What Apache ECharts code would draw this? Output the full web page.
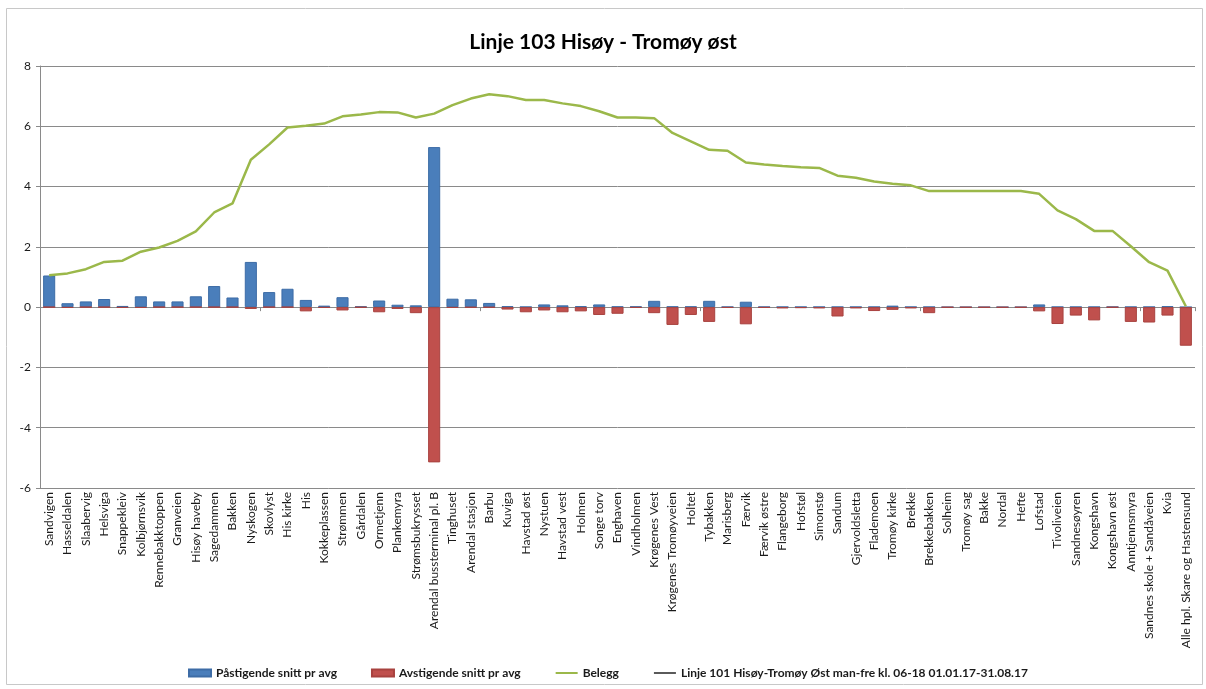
<!DOCTYPE html>
<html>
<head>
<meta charset="utf-8">
<script src="https://cdn.jsdelivr.net/npm/echarts@6/dist/echarts.min.js"></script>
<style>
  html, body { margin: 0; padding: 0; background: #fff; }
  #chart { width: 1206px; height: 689px; }
</style>
</head>
<body>
<div id="chart"></div>
<script>
// Stops on route 103, in driving order
const stops = [
  'Sandvigen', 'Hasseldalen', 'Slaabervig', 'Helsviga', 'Snappekleiv', 'Kolbjørnsvik',
  'Rennebakktoppen', 'Granveien', 'Hisøy haveby', 'Sagedammen', 'Bakken', 'Nyskogen',
  'Skovlyst', 'His kirke', 'His', 'Kokkeplassen', 'Strømmen', 'Gårdalen', 'Ormetjenn',
  'Plankemyra', 'Strømsbukrysset', 'Arendal bussterminal pl. B', 'Tinghuset',
  'Arendal stasjon', 'Barbu', 'Kuviga', 'Havstad øst', 'Nystuen', 'Havstad vest',
  'Holmen', 'Songe torv', 'Enghaven', 'Vindholmen', 'Krøgenes Vest',
  'Krøgenes Tromøyveien', 'Holtet', 'Tybakken', 'Marisberg', 'Færvik', 'Færvik østre',
  'Flangeborg', 'Hofstøl', 'Simonstø', 'Sandum', 'Gjervoldsletta', 'Flademoen',
  'Tromøy kirke', 'Brekke', 'Brekkebakken', 'Solheim', 'Tromøy sag', 'Bakke', 'Nordal',
  'Hefte', 'Lofstad', 'Tivoliveien', 'Sandnesøyren', 'Kongshavn', 'Kongshavn øst',
  'Anntjennsmyra', 'Sandnes skole + Sandåveien', 'Kvia', 'Alle hpl. Skare og Hastensund'
];

// Average boardings per departure
const pastigende = [
  1.05, 0.13, 0.19, 0.27, 0.04, 0.36, 0.19, 0.19, 0.36, 0.70,
  0.32, 1.50, 0.50, 0.61, 0.24, 0.05, 0.33, 0.02, 0.22, 0.08,
  0.06, 5.31, 0.28, 0.26, 0.14, 0.03, 0.01, 0.09, 0.06, 0.03,
  0.09, 0.02, 0.02, 0.21, 0.02, 0.02, 0.21, 0.01, 0.18, 0.01,
  0.01, 0.01, 0.01, 0.01, 0.01, 0.01, 0.05, 0.01, 0.01, 0,
  0, 0, 0, 0, 0.09, 0.01, 0.01, 0.01, 0.01, 0.01,
  0.01, 0.03, 0
];

// Average alightings per departure (shown below zero)
const avstigende = [
  0, -0.02, 0, 0, -0.02, -0.02, 0, 0, 0, 0,
  0, -0.06, 0, 0, -0.14, -0.02, -0.11, -0.01, -0.17, -0.06,
  -0.20, -5.15, -0.02, -0.01, -0.01, -0.08, -0.17, -0.11, -0.17, -0.14,
  -0.26, -0.22, -0.02, -0.20, -0.59, -0.26, -0.49, -0.02, -0.57, -0.02,
  -0.04, -0.03, -0.04, -0.31, -0.04, -0.13, -0.09, -0.04, -0.20, -0.01,
  -0.01, -0.01, -0.01, -0.01, -0.14, -0.56, -0.28, -0.44, -0.01, -0.49,
  -0.51, -0.28, -1.28
];

// Passengers on board after each stop
const belegg = [
  1.06, 1.12, 1.26, 1.50, 1.54, 1.84, 1.98, 2.20, 2.51, 3.14,
  3.44, 4.89, 5.40, 5.96, 6.02, 6.09, 6.33, 6.39, 6.47, 6.46,
  6.29, 6.42, 6.70, 6.92, 7.06, 7.00, 6.87, 6.87, 6.76, 6.67,
  6.50, 6.29, 6.29, 6.27, 5.78, 5.50, 5.22, 5.19, 4.80, 4.73,
  4.68, 4.64, 4.62, 4.36, 4.29, 4.17, 4.09, 4.04, 3.85, 3.85,
  3.85, 3.85, 3.85, 3.85, 3.76, 3.21, 2.92, 2.53, 2.53, 2.02,
  1.49, 1.21, 0.03
];

const seriesNames = [
  'Påstigende snitt pr avg',
  'Avstigende snitt pr avg',
  'Belegg',
  'Linje 101 Hisøy-Tromøy Øst man-fre kl. 06-18 01.01.17-31.08.17'
];

const yTicks = { min: -6, max: 8, interval: 2 };

const FONT = 'Lato, "Liberation Sans", sans-serif';
const chart = echarts.init(document.getElementById('chart'), null, { renderer: 'canvas' });

chart.setOption({
  animation: false,
  backgroundColor: '#ffffff',
  graphic: [{
    type: 'rect',
    shape: { x: 6.5, y: 8.5, width: 1196, height: 676 },
    style: { fill: 'none', stroke: '#c8c8c8', lineWidth: 1 },
    silent: true, z: -1
  }],
  title: {
    text: 'Linje 103 Hisøy - Tromøy øst',
    left: 'center',
    top: 27,
    textStyle: { fontFamily: FONT, fontSize: 21, fontWeight: 'bold', color: '#000' }
  },
  legend: {
    bottom: 5,
    left: 183,
    itemGap: 34,
    itemWidth: 22,
    itemHeight: 7,
    textStyle: { fontFamily: FONT, fontSize: 12, fontWeight: 'bold', color: '#1a1a1a' },
    data: [
      { name: seriesNames[0], icon: 'rect' },
      { name: seriesNames[1], icon: 'rect' },
      { name: seriesNames[2], itemStyle: { opacity: 0 } },
      { name: seriesNames[3], itemStyle: { opacity: 0 } }
    ]
  },
  grid: { left: 40, right: 11, top: 66, bottom: 201, containLabel: false },
  xAxis: [
    {
      type: 'category',
      data: stops,
      position: 'bottom',
      axisLine: { show: false, onZero: false },
      axisTick: { show: false },
      axisLabel: {
        interval: 0,
        rotate: 90,
        margin: 4,
        fontFamily: FONT,
        fontSize: 12,
        color: '#1a1a1a'
      }
    },
    {
      type: 'category',
      data: stops,
      position: 'bottom',
      axisLine: { show: true, onZero: true, lineStyle: { color: '#8a8a8a', width: 1 } },
      axisTick: { show: true, length: 4, inside: false, lineStyle: { color: '#8a8a8a' } },
      axisLabel: { show: false }
    }
  ],
  yAxis: {
    type: 'value',
    min: yTicks.min,
    max: yTicks.max,
    interval: yTicks.interval,
    axisLine: { show: true, lineStyle: { color: '#8a8a8a' } },
    axisTick: { show: true, length: 4, lineStyle: { color: '#8a8a8a' } },
    axisLabel: { fontFamily: FONT, fontSize: 12, color: '#1a1a1a', margin: 9 },
    splitLine: { show: true, lineStyle: { color: '#8a8a8a', width: 1 } }
  },
  series: [
    {
      name: seriesNames[0],
      type: 'bar',
      xAxisIndex: 0,
      data: pastigende,
      barWidth: '66%',
      barGap: '-100%',
      itemStyle: { color: '#4a7ebb', borderColor: '#3d6ca6', borderWidth: 1 },
      z: 2
    },
    {
      name: seriesNames[1],
      type: 'bar',
      xAxisIndex: 0,
      data: avstigende,
      barWidth: '66%',
      barGap: '-100%',
      itemStyle: { color: '#c0504d', borderColor: '#a8423f', borderWidth: 1 },
      z: 2
    },
    {
      name: seriesNames[2],
      type: 'line',
      xAxisIndex: 0,
      data: belegg,
      symbol: 'none',
      lineStyle: { color: '#9bb84a', width: 2.5 },
      itemStyle: { color: '#9bb84a' },
      z: 3
    },
    {
      name: seriesNames[3],
      type: 'line',
      xAxisIndex: 0,
      data: [],
      symbol: 'none',
      lineStyle: { color: '#5a5a5a', width: 2 },
      itemStyle: { color: '#5a5a5a' }
    }
  ]
});
</script>
</body>
</html>
